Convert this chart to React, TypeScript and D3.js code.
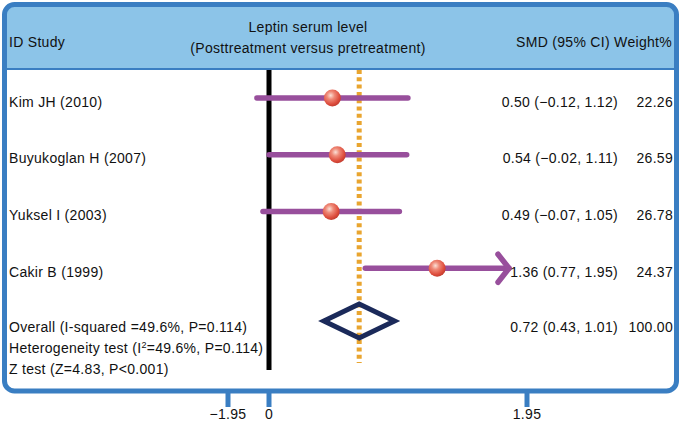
import React from "react";
import * as d3 from "d3";

const studies = ["Kim JH (2010)", "Buyukoglan H (2007)", "Yuksel I (2003)", "Cakir B (1999)"];
const smd = [0.5, 0.54, 0.49, 1.36];
const lower = [-0.12, -0.02, -0.07, 0.77];
const upper = [1.12, 1.11, 1.05, 1.95];
const weights = ["22.26", "26.59", "26.78", "24.37"];
const ciLabels = ["0.50 (\u22120.12, 1.12)", "0.54 (\u22120.02, 1.11)", "0.49 (\u22120.07, 1.05)", "1.36 (0.77, 1.95)"];
const overall = { est: 0.72, lo: 0.43, hi: 1.01, label: "0.72 (0.43, 1.01)", weight: "100.00" };
const axisTicks = [-1.95, 0, 1.95];
const tickLabels = ["\u22121.95", "0", "1.95"];
const clipMax = 1.95;

const W = 681, H = 424;
const FONT = "'Liberation Sans', Arial, Helvetica, sans-serif";
const BLUE = "#3a7ec2";
const HEADER = "#8cc4e8";
const PURPLE = "#984f9c";
const ORANGE = "#e9a52f";
const NAVY = "#1b2a5a";

export default function App() {
  const x = d3.scaleLinear().domain([0, 1.95]).range([271.5, 509]);
  const xAxis = d3.scaleLinear().domain(axisTicks).range([228, 269, 527]);
  const y = d3.scalePoint<string>().domain([...studies, "Overall"]).range([98, 325]);
  const yo = (y("Overall") as number) - 4;

  const diamond = d3.line()([
    [x(overall.lo), yo],
    [x(overall.est), yo - 17],
    [x(overall.hi), yo],
    [x(overall.est), yo + 17],
  ]) + "Z";

  const txt = { fontFamily: FONT, fontSize: 14, fill: "#111", letterSpacing: 0.3 } as const;

  return (
    <svg width={W} height={H} style={{ position: "absolute", left: 0, top: 0, background: "#fff" }}>
      <defs>
        <radialGradient id="ball" cx="40%" cy="35%" r="65%">
          <stop offset="0%" stopColor="#fbe0d6" />
          <stop offset="35%" stopColor="#ef8a78" />
          <stop offset="80%" stopColor="#dd4c3c" />
          <stop offset="100%" stopColor="#c43e30" />
        </radialGradient>
      </defs>
      {/* header */}
      <rect x={4.5} y={4.5} width={672} height={64} rx={10} fill={HEADER} />
      <rect x={4.5} y={40} width={672} height={29} fill={HEADER} />
      <line x1={6} x2={675} y1={69} y2={69} stroke={BLUE} strokeWidth={2} />
      <text {...txt} x={9} y={47}>ID Study</text>
      <text {...txt} x={308} y={32} textAnchor="middle">Leptin serum level</text>
      <text {...txt} x={308} y={53} textAnchor="middle">(Posttreatment versus pretreatment)</text>
      <text {...txt} x={672} y={47} textAnchor="end">SMD (95% CI) Weight%</text>

      {/* frame */}
      <rect x={4.5} y={4.5} width={672} height={386.5} rx={10} fill="none" stroke={BLUE} strokeWidth={5} />

      {/* axis ticks */}
      {axisTicks.map((t, i) => (
        <g key={t}>
          <line x1={xAxis(t)} x2={xAxis(t)} y1={391} y2={407} stroke={BLUE} strokeWidth={5} />
          <text {...txt} x={xAxis(t)} y={419} textAnchor="middle">{tickLabels[i]}</text>
        </g>
      ))}

      {/* null line */}
      <line x1={269} x2={269} y1={70} y2={370} stroke="#000" strokeWidth={5} />
      {/* overall dashed line */}
      <line x1={x(overall.est)} x2={x(overall.est)} y1={70} y2={363} stroke={ORANGE} strokeWidth={5} strokeDasharray="4 3.3" />

      {/* studies */}
      {studies.map((s, i) => {
        const yy = y(s) as number;
        const clipped = upper[i] >= clipMax;
        const x2 = x(Math.min(upper[i], clipMax));
        return (
          <g key={s}>
            <line x1={x(lower[i])} x2={x2} y1={yy} y2={yy} stroke={PURPLE} strokeWidth={5.5} strokeLinecap="round" />
            {clipped && (
              <path d={`M${x2 - 11},${yy - 14}L${x2},${yy}L${x2 - 11},${yy + 14}`} fill="none" stroke={PURPLE} strokeWidth={5.5} strokeLinecap="round" strokeLinejoin="round" />
            )}
            <circle cx={x(smd[i])} cy={yy} r={8.5} fill="url(#ball)" />
            <text {...txt} x={9} y={yy + 8.5}>{s}</text>
            <text {...txt} x={618} y={yy + 8.5} textAnchor="end">{ciLabels[i]}</text>
            <text {...txt} x={673} y={yy + 8.5} textAnchor="end">{weights[i]}</text>
          </g>
        );
      })}

      {/* overall */}
      <path d={diamond} fill="none" stroke={NAVY} strokeWidth={5} strokeLinejoin="miter" />
      <text {...txt} x={9} y={332}>Overall (I-squared =49.6%, P=0.114)</text>
      <text {...txt} x={9} y={353}>Heterogeneity test (I<tspan dy={-5} fontSize={9}>2</tspan><tspan dy={5}>=49.6%, P=0.114)</tspan></text>
      <text {...txt} x={9} y={374}>Z test (Z=4.83, P&lt;0.001)</text>
      <text {...txt} x={618} y={332} textAnchor="end">{overall.label}</text>
      <text {...txt} x={673} y={332} textAnchor="end">{overall.weight}</text>
    </svg>
  );
}
